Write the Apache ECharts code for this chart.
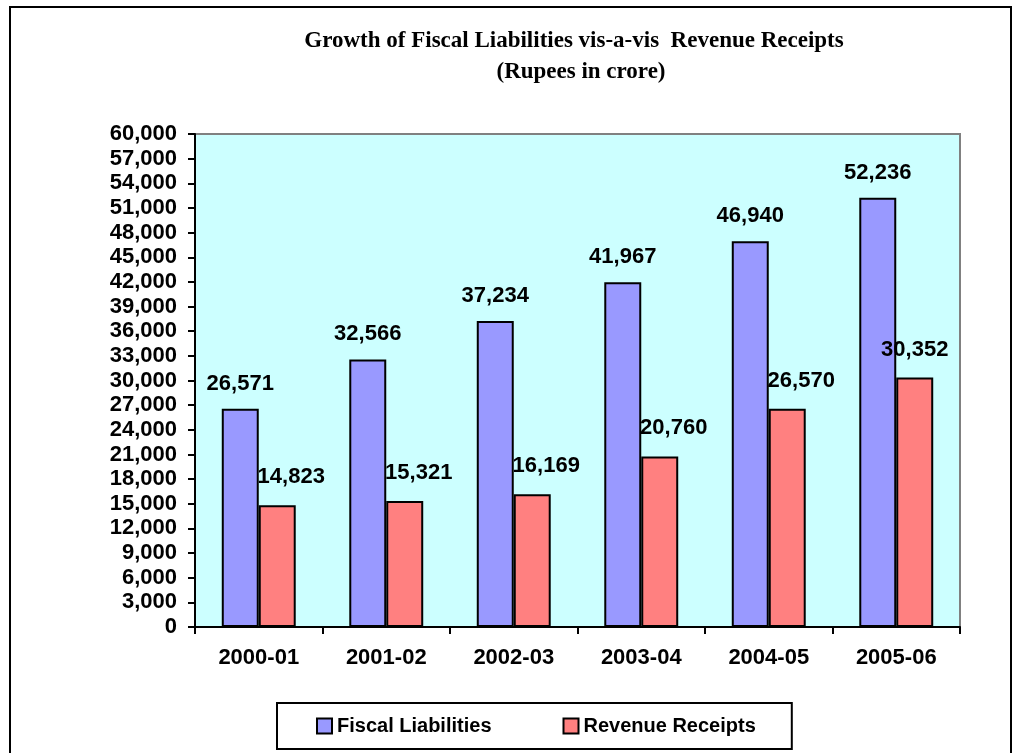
<!DOCTYPE html>
<html>
<head>
<meta charset="utf-8">
<script src="https://cdn.jsdelivr.net/npm/echarts@6/dist/echarts.min.js"></script>
<style>
  html, body { margin: 0; padding: 0; background: #fff; }
  #chart { width: 1021px; height: 753px; }
</style>
</head>
<body>
<div id="chart"></div>
<script>
const years = ['2000-01', '2001-02', '2002-03', '2003-04', '2004-05', '2005-06']
const fiscalLiabilities = [26571, 32566, 37234, 41967, 46940, 52236]
const revenueReceipts = [14823, 15321, 16169, 20760, 26570, 30352]

const chart = echarts.init(document.getElementById('chart'))

const fmt = v => v.toLocaleString('en-US')
const boldText = {
  fontFamily: 'Arial, "Liberation Sans", sans-serif',
  fontWeight: 'bold',
  fontSize: 22,
  color: '#000'
}
const titleText = {
  fontFamily: '"Times New Roman", "Liberation Serif", serif',
  fontWeight: 'bold',
  fontSize: 23,
  color: '#000'
}

const option = {
  animation: false,
  title: [{
    text: 'Growth of Fiscal Liabilities vis-a-vis  Revenue Receipts',
    left: 574,
    top: 30,
    padding: 0,
    textAlign: 'center',
    textStyle: titleText
  }, {
    text: '(Rupees in crore)',
    left: 581,
    top: 61,
    padding: 0,
    textAlign: 'center',
    textStyle: titleText
  }],
  graphic: [{
    type: 'rect',
    shape: { x: 10, y: 7, width: 1001, height: 780 },
    style: { fill: 'none', stroke: '#000', lineWidth: 2 },
    silent: true
  }],
  legend: {
    left: 277,
    top: 703,
    padding: [13, 36, 13, 39],
    itemGap: 71,
    itemWidth: 15,
    itemHeight: 15,
    icon: 'rect',
    borderColor: '#000',
    borderWidth: 2,
    textStyle: Object.assign({}, boldText, { fontSize: 20 }),
    data: ['Fiscal Liabilities', 'Revenue Receipts']
  },
  grid: {
    left: 195,
    right: 61,
    top: 134,
    bottom: 126,
    show: true,
    backgroundColor: '#CCFFFF',
    borderColor: '#808080',
    borderWidth: 2
  },
  xAxis: {
    type: 'category',
    data: years,
    axisLine: { lineStyle: { color: '#000', width: 2 } },
    axisTick: { show: true, length: 7, lineStyle: { color: '#000', width: 2 } },
    axisLabel: Object.assign({ margin: 20 }, boldText),
    splitLine: { show: false }
  },
  yAxis: {
    type: 'value',
    min: 0,
    max: 60000,
    interval: 3000,
    axisLine: { show: true, lineStyle: { color: '#000', width: 2 } },
    axisTick: { show: true, length: 7, lineStyle: { color: '#000', width: 2 } },
    axisLabel: Object.assign({ margin: 18, formatter: fmt }, boldText),
    splitLine: { show: false }
  },
  series: [{
    name: 'Fiscal Liabilities',
    type: 'bar',
    barGap: 0,
    barCategoryGap: '42%',
    itemStyle: { color: '#9999FF', borderColor: '#000', borderWidth: 2 },
    label: Object.assign({
      show: true,
      position: 'top',
      distance: 14,
      formatter: p => fmt(p.value)
    }, boldText),
    data: fiscalLiabilities
  }, {
    name: 'Revenue Receipts',
    type: 'bar',
    barGap: 0,
    barCategoryGap: '42%',
    itemStyle: { color: '#FF8080', borderColor: '#000', borderWidth: 2 },
    label: Object.assign({
      show: true,
      position: 'top',
      distance: 17,
      formatter: p => fmt(p.value)
    }, boldText),
    data: revenueReceipts.map((v, i) => ({
      value: v,
      label: { offset: [i === revenueReceipts.length - 1 ? 0 : 14, 0] }
    }))
  }]
}

chart.setOption(option)
</script>
</body>
</html>
